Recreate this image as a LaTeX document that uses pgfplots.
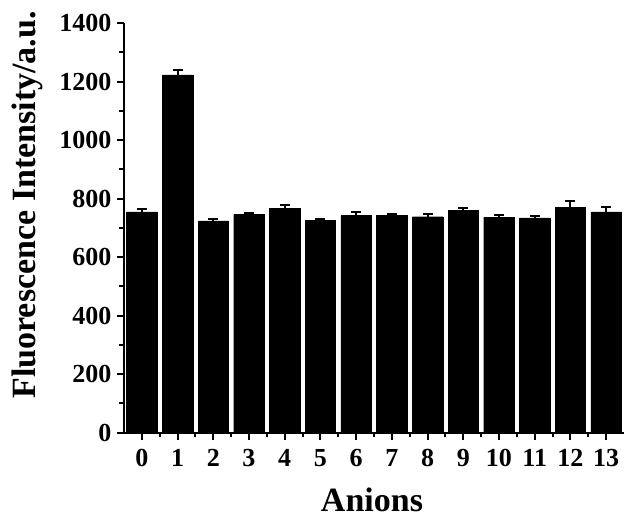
\documentclass[border=0pt]{standalone}
\usepackage{fontspec}
\setmainfont{Liberation Serif}
\usepackage{pgfplots}
\pgfplotsset{compat=1.18}

\pgfplotstableread{
x  y    err
0  755  8
1  1223 15
2  724  7
3  745  7
4  767  11
5  726  4
6  743  10
7  743  5
8  738  10
9  760  8
10 736  8
11 734  5
12 771  20
13 755  15
}\anions

\begin{document}
\begin{tikzpicture}
\begin{axis}[
    scale only axis,
    width=500pt, height=409.7pt,
    ybar, bar width=30.5pt,
    xmin=-0.5, xmax=13.5,
    ymin=0, ymax=1400,
    axis lines=left,
    axis line style={-, line width=2pt},
    every tick/.style={black, line width=2pt},
    tick align=outside,
    major tick length=7pt, minor tick length=4.5pt,
    xtick={0,...,13},
    minor x tick num=1,
    ytick={0,200,...,1400},
    minor y tick num=1,
    /pgf/number format/1000 sep={},
    /pgf/number format/assume math mode=true,
    tick label style={font=\fontsize{26}{26}\selectfont\bfseries},
    label style={font=\fontsize{34}{34}\selectfont\bfseries},
    xlabel={Anions},
    ylabel={Fluorescence Intensity/a.u.},
    xlabel style={at={(axis description cs:0.496,-0.192)}, anchor=base, inner sep=0pt},
    ylabel style={at={(axis description cs:-0.194,0.556)}, anchor=center},
    xticklabel style={yshift=-6pt},
    yticklabel style={xshift=-2pt},
]
\coordinate (bl) at (rel axis cs:0,0);
\addplot[fill=black, draw=black,
    error bars/.cd, y dir=plus, y explicit,
    error bar style={line width=2pt, black},
    error mark options={rotate=90, mark size=5pt, line width=2pt, black}]
    table[x=x, y=y, y error=err] {\anions};
\end{axis}
\pgfresetboundingbox
\path (bl) ++(-124pt,-86.3pt) rectangle ++(633pt,519pt);
\end{tikzpicture}
\end{document}
